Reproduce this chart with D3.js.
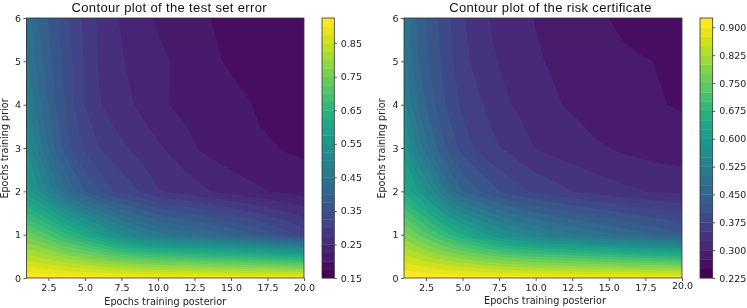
<!DOCTYPE html>
<html><head><meta charset="utf-8">
<script src="https://cdn.jsdelivr.net/npm/d3@7"></script>
<style>html,body{margin:0;padding:0;background:#fff}svg{display:block;filter:blur(0.35px)}
text{font-family:"DejaVu Sans",sans-serif;fill:#222}
</style></head><body><svg id="c" width="747" height="308"></svg>
<script>
const epochsPosterior = d3.range(1, 21);
const epochsPrior = [0, 1, 2, 3, 4, 5, 6];
const xTicks = [2.5, 5, 7.5, 10, 12.5, 15, 17.5, 20];
const yTicks = [0, 1, 2, 3, 4, 5, 6];

const errorPrior0 = [.924,.922,.92,.918,.917,.916,.915,.914,.913,.912,.912,.911,.91,.91,.909,.908,.907,.906,.905,.905];
const errorPrior1 = [.74,.715,.68,.645,.615,.575,.535,.505,.48,.46,.445,.435,.425,.41,.40,.385,.37,.35,.335,.315];
const errorPrior2 = [.565,.52,.465,.415,.375,.35,.323,.31,.295,.277,.27,.263,.255,.247,.24,.233,.228,.223,.219,.215];
const errorPrior3 = [.525,.455,.395,.35,.32,.30,.287,.275,.263,.254,.244,.232,.222,.215,.21,.206,.203,.201,.197,.195];
const errorPrior4 = [.485,.425,.375,.335,.30,.277,.263,.254,.243,.232,.223,.218,.214,.211,.207,.202,.197,.193,.19,.187];
const errorPrior5 = [.455,.405,.365,.33,.297,.272,.258,.247,.237,.23,.224,.218,.212,.202,.197,.194,.192,.19,.188,.186];
const errorPrior6 = [.445,.39,.355,.325,.293,.27,.253,.242,.231,.222,.215,.21,.203,.198,.195,.193,.191,.19,.188,.187];

const riskPrior0 = [.924,.923,.922,.92,.919,.918,.917,.916,.915,.914,.914,.913,.912,.912,.911,.91,.91,.909,.909,.908];
const riskPrior1 = [.785,.75,.715,.68,.65,.62,.59,.565,.55,.535,.52,.51,.50,.49,.48,.47,.46,.45,.44,.43];
const riskPrior2 = [.645,.60,.55,.49,.45,.43,.41,.392,.38,.37,.362,.354,.347,.341,.336,.331,.327,.323,.321,.32];
const riskPrior3 = [.585,.515,.46,.42,.39,.37,.355,.347,.335,.324,.318,.313,.308,.303,.30,.295,.292,.289,.287,.285];
const riskPrior4 = [.535,.47,.43,.395,.37,.355,.343,.328,.32,.313,.305,.299,.295,.291,.287,.284,.281,.278,.275,.273];
const riskPrior5 = [.51,.45,.415,.385,.357,.343,.328,.32,.312,.303,.298,.293,.289,.285,.282,.279,.277,.275,.265,.26];
const riskPrior6 = [.50,.44,.41,.38,.353,.337,.323,.315,.307,.299,.294,.289,.284,.279,.275,.27,.266,.263,.26,.257];

const errorLevelsMin = 0.15, riskLevelsMin = 0.225, levelsMax = 0.925, levelStep = 0.025;
const errorBarTicks = [.15,.25,.35,.45,.55,.65,.75,.85];
const riskBarTicks = [.225,.3,.375,.45,.525,.6,.675,.75,.825,.9];

const svg = d3.select("#c");
function panel(id, cfg){
  const g = svg.append("g");
  const x = d3.scaleLinear().domain([1,20]).range([cfg.left, cfg.left+cfg.w]);
  const y = d3.scaleLinear().domain([0,6]).range([278,18]);
  const nx = epochsPosterior.length, ny = epochsPrior.length;
  const grid = cfg.rows.flat();
  const n = Math.round((levelsMax-cfg.min)/levelStep);
  const levels = d3.range(n+1).map(i => cfg.min + i*levelStep);
  const mids = levels.slice(0,-1).map((l,i)=>(l+levels[i+1])/2);
  const col = d3.scaleSequential(d3.interpolateViridis).domain([mids[0], mids[mids.length-1]]);
  const transform = d3.geoTransform({point(a,b){ this.stream.point(x(a+0.5), y(b-0.5)); }});
  const path = d3.geoPath(transform);
  const contours = d3.contours().size([nx,ny]).thresholds(levels.slice(0,-1))(grid);
  svg.append("clipPath").attr("id",id).append("rect")
    .attr("x",cfg.left).attr("y",18).attr("width",cfg.w).attr("height",260);
  g.append("g").attr("clip-path",`url(#${id})`).selectAll("path").data(contours).join("path")
    .attr("d",path).attr("fill",(d,i)=>col(mids[i]));
  const fs = "9.5px";
  const ax = g.append("g").attr("transform","translate(0,278)")
    .call(d3.axisBottom(x).tickValues(xTicks).tickFormat(d3.format(".1f")).tickSize(3).tickPadding(3));
  const ay = g.append("g").attr("transform",`translate(${cfg.left},0)`)
    .call(d3.axisLeft(y).tickValues(yTicks).tickFormat(d3.format("d")).tickSize(3).tickPadding(2.5));
  [ax,ay].forEach(a=>{a.selectAll("text").style("font-size",fs);a.select(".domain").remove();a.selectAll("line").attr("stroke","#333").attr("stroke-width",.8)});
  if(cfg.raise) ax.selectAll("text").filter(d=>d===20).attr("dy","0.53em");
  g.append("rect").attr("x",cfg.left).attr("y",18).attr("width",cfg.w).attr("height",260)
    .attr("fill","none").attr("stroke","#333").attr("stroke-width",.8);
  g.append("text").attr("x",cfg.left+cfg.w/2+cfg.titleDx).attr("y",12).attr("text-anchor","middle")
    .style("font-family","'Liberation Sans',sans-serif").style("font-size","13px").style("letter-spacing","0.35px").style("fill","#111").text(cfg.title);
  g.append("text").attr("x",cfg.left+cfg.w/2+cfg.xlDx).attr("y",cfg.xlY).attr("text-anchor","middle")
    .style("font-size","9.7px").text("Epochs training posterior");
  g.append("text").attr("transform",`translate(${cfg.left-19},148.5) rotate(-90)`).attr("text-anchor","middle")
    .style("font-size","9.6px").text("Epochs training prior");
  // colour bar
  const by = d3.scaleLinear().domain([cfg.min, levelsMax]).range([278,18]);
  const bar = g.append("g");
  bar.selectAll("rect").data(mids).join("rect")
    .attr("x",cfg.barX).attr("width",cfg.barW)
    .attr("y",(d,i)=>by(levels[i+1])).attr("height",(d,i)=>by(levels[i])-by(levels[i+1])+.3)
    .attr("fill",d=>col(d));
  bar.append("rect").attr("x",cfg.barX).attr("y",18).attr("width",cfg.barW).attr("height",260)
    .attr("fill","none").attr("stroke","#333").attr("stroke-width",.8);
  const ab = g.append("g").attr("transform",`translate(${cfg.barX+cfg.barW},0)`)
    .call(d3.axisRight(by).tickValues(cfg.barTicks).tickFormat(d3.format(cfg.fmt)).tickSize(2.5).tickPadding(4));
  ab.select(".domain").remove();
  ab.selectAll("line").attr("stroke","#333").attr("stroke-width",.8);
  ab.selectAll("text").style("font-size",fs);
}
panel("p1",{left:26.5,w:277.5,min:errorLevelsMin,title:"Contour plot of the test set error",
  rows:[errorPrior0,errorPrior1,errorPrior2,errorPrior3,errorPrior4,errorPrior5,errorPrior6],
  barX:322,barW:12.3,barTicks:errorBarTicks,fmt:".2f",xlY:305,xlDx:0,titleDx:4});
panel("p2",{left:404,w:278,min:riskLevelsMin,title:"Contour plot of the risk certificate",
  rows:[riskPrior0,riskPrior1,riskPrior2,riskPrior3,riskPrior4,riskPrior5,riskPrior6],
  barX:700,barW:12.7,barTicks:riskBarTicks,fmt:".3f",xlY:304,xlDx:2,titleDx:7.5,raise:true});
</script></body></html>
